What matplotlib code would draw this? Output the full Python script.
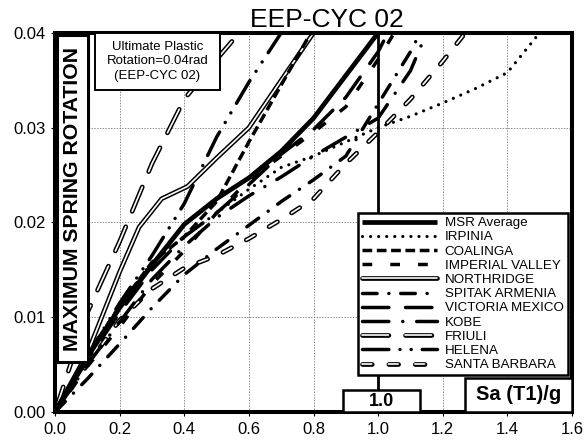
import matplotlib
matplotlib.use("Agg")
import matplotlib.pyplot as plt
import matplotlib.patheffects as pe
from matplotlib.patches import Rectangle

plt.rcParams['font.family'] = ['Liberation Sans', 'DejaVu Sans']
plt.rcParams['lines.scale_dashes'] = False

# Spectral acceleration steps and maximum spring rotation for each record
sa_msr = [0, 0.1, 0.2, 0.3, 0.4, 0.5, 0.6, 0.7, 0.8, 0.9, 1.0]
rot_msr = [0, 0.0058, 0.011, 0.0155, 0.0198, 0.0225, 0.0247, 0.0275, 0.031, 0.0355, 0.040]

sa_irpinia = [0, 0.1, 0.2, 0.3, 0.4, 0.5, 0.6, 0.7, 0.8, 0.9, 1.0, 1.1, 1.2, 1.3, 1.4, 1.5]
rot_irpinia = [0, 0.006, 0.0112, 0.0158, 0.0185, 0.021, 0.0235, 0.0258, 0.027, 0.0285,
               0.030, 0.0312, 0.0326, 0.0341, 0.0358, 0.040]

sa_coalinga = [0, 0.1, 0.2, 0.3, 0.4, 0.5, 0.6, 0.7, 0.8]
rot_coalinga = [0, 0.006, 0.0112, 0.0158, 0.0185, 0.0222, 0.0285, 0.0345, 0.0405]

sa_imperial = [0, 0.1, 0.2, 0.3, 0.4, 0.5, 0.6, 0.7, 0.8, 0.9, 1.0, 1.05]
rot_imperial = [0, 0.0048, 0.009, 0.0135, 0.017, 0.021, 0.0245, 0.027, 0.0295, 0.0322, 0.0372, 0.040]

sa_northridge = [0, 0.1, 0.2, 0.26, 0.33, 0.41, 0.5, 0.6, 0.7, 0.8]
rot_northridge = [0, 0.0062, 0.0148, 0.0195, 0.0225, 0.0238, 0.0268, 0.030, 0.035, 0.040]

sa_spitak = [0, 0.1, 0.2, 0.3, 0.4, 0.5, 0.6, 0.7, 0.8, 0.9, 1.0, 1.1, 1.13]
rot_spitak = [0, 0.0035, 0.0072, 0.011, 0.0145, 0.0172, 0.0197, 0.0222, 0.0245, 0.027,
              0.0325, 0.038, 0.040]

sa_victoria = [0, 0.1, 0.2, 0.3, 0.4, 0.5, 0.6, 0.7, 0.8, 0.9, 1.0, 1.03]
rot_victoria = [0, 0.0055, 0.0105, 0.015, 0.0185, 0.021, 0.024, 0.0272, 0.0298, 0.0332, 0.038, 0.040]

sa_kobe = [0, 0.1, 0.2, 0.3, 0.4, 0.5, 0.6, 0.7, 0.8, 0.9, 1.0, 1.1, 1.15]
rot_kobe = [0, 0.005, 0.0095, 0.014, 0.0175, 0.0205, 0.0228, 0.0248, 0.027, 0.029, 0.031, 0.036, 0.040]

sa_friuli = [0, 0.1, 0.2, 0.3, 0.4, 0.5, 0.57]
rot_friuli = [0, 0.0105, 0.018, 0.0262, 0.033, 0.0372, 0.040]

sa_helena = [0, 0.1, 0.2, 0.3, 0.4, 0.5, 0.6, 0.7]
rot_helena = [0, 0.006, 0.0115, 0.0165, 0.022, 0.029, 0.0348, 0.040]

sa_santa_barbara = [0, 0.1, 0.2, 0.3, 0.4, 0.5, 0.6, 0.7, 0.8, 0.9, 1.0, 1.1, 1.2, 1.27]
rot_santa_barbara = [0, 0.005, 0.0097, 0.013, 0.0152, 0.0165, 0.0183, 0.0203, 0.0225, 0.0262,
                     0.0295, 0.033, 0.037, 0.040]

x_ticks = [0.0, 0.2, 0.4, 0.6, 0.8, 1.0, 1.2, 1.4, 1.6]
y_ticks = [0.00, 0.01, 0.02, 0.03, 0.04]
x_tick_labels = ["0.0", "0.2", "0.4", "0.6", "0.8", "1.0", "1.2", "1.4", "1.6"]
y_tick_labels = ["0.00", "0.01", "0.02", "0.03", "0.04"]

fig = plt.figure(figsize=(5.86, 4.44), dpi=100)
ax = fig.add_axes([0.094, 0.072, 0.882, 0.854])
ax.set_xlim(0, 1.6)
ax.set_ylim(0, 0.04)

LW = 2.5


def single(x, y, dashes=None, lw=LW, cap='round'):
    kw = dict(color='black', lw=lw, solid_capstyle='butt', dash_capstyle=cap)
    if dashes is not None:
        kw['linestyle'] = (0, dashes)
    line, = ax.plot(x, y, **kw)
    return line


def double(x, y, dashes=None):
    # white core with a black outline
    kw = dict(color='white', lw=1.2, solid_capstyle='round', dash_capstyle='round',
              path_effects=[pe.Stroke(linewidth=3.4, foreground='black'), pe.Normal()])
    if dashes is not None:
        kw['linestyle'] = (0, dashes)
    line, = ax.plot(x, y, **kw)
    return line


# dash patterns in points (round caps add one line width to every dash)
pat_irpinia = (0.01, 5.8)
pat_coalinga = (7.0, 3.3)
pat_imperial = (7.0, 13.0)
pat_spitak = (10.5, 8.5, 0.01, 8.5)
pat_victoria = (19.0, 12.0)
pat_kobe = (19.0, 10.0, 0.01, 10.0)
pat_helena = (19.0, 8.0, 0.01, 8.0, 0.01, 8.0)
pat_friuli = (19.0, 12.0)
pat_santa = (7.0, 12.0)

h_santa = double(sa_santa_barbara, rot_santa_barbara, pat_santa)
h_friuli = double(sa_friuli, rot_friuli, pat_friuli)
h_helena = single(sa_helena, rot_helena, pat_helena)
h_kobe = single(sa_kobe, rot_kobe, pat_kobe)
h_victoria = single(sa_victoria, rot_victoria, pat_victoria)
h_spitak = single(sa_spitak, rot_spitak, pat_spitak)
h_northridge = double(sa_northridge, rot_northridge)
h_imperial = single(sa_imperial, rot_imperial, pat_imperial, cap='butt')
h_coalinga = single(sa_coalinga, rot_coalinga, pat_coalinga, cap='butt')
h_irpinia = single(sa_irpinia, rot_irpinia, pat_irpinia, lw=2.3)
h_msr = single(sa_msr, rot_msr, None, lw=3.4)

# reference line at Sa = 1.0
ax.plot([1.0, 1.0], [0, 0.04], color='black', lw=2.0, zorder=3)

ax.set_xticks(x_ticks)
ax.set_xticklabels(x_tick_labels)
ax.set_yticks(y_ticks)
ax.set_yticklabels(y_tick_labels)
ax.tick_params(direction='out', length=3, width=0.8, labelsize=12, pad=4)
ax.grid(True, color='#8a8a8a', linestyle=(0, (1, 1)), lw=0.7)
ax.set_axisbelow(True)
for s in ax.spines.values():
    s.set_linewidth(2.9)
    s.set_zorder(6)

fig.text(0.557, 0.939, "EEP-CYC 02", fontsize=19, ha='center', va='baseline')

handles = [h_msr, h_irpinia, h_coalinga, h_imperial, h_northridge, h_spitak,
           h_victoria, h_kobe, h_friuli, h_helena, h_santa]
labels = ["MSR Average", "IRPINIA", "COALINGA", "IMPERIAL VALLEY", "NORTHRIDGE",
          "SPITAK ARMENIA", "VICTORIA MEXICO", "KOBE", "FRIULI", "HELENA", "SANTA BARBARA"]
leg = ax.legend(handles, labels, loc='upper left', bbox_to_anchor=(0.586, 0.525),
                borderaxespad=0, fontsize=9.6, handlelength=5.6, handletextpad=0.6,
                labelspacing=0.14, borderpad=0.3, fancybox=False, framealpha=1,
                edgecolor='black')
leg.get_frame().set_linewidth(1.8)
leg.set_zorder(7)


def framed(x0, y0, x1, y1, lw=1.8):
    ax.add_patch(Rectangle((x0, y0), x1 - x0, y1 - y0, transform=ax.transAxes,
                           facecolor='white', edgecolor='black', lw=lw, zorder=8,
                           clip_on=False))


# y-axis caption inside the frame
framed(0.004, 0.132, 0.064, 0.994, lw=2.2)
ax.text(0.034, 0.563, "MAXIMUM SPRING ROTATION", transform=ax.transAxes, rotation=90,
        fontsize=15.3, fontweight='bold', ha='center', va='center', zorder=9)

framed(0.077, 0.85, 0.319, 1.0, lw=1.4)
ax.text(0.198, 0.925, "Ultimate Plastic\nRotation=0.04rad\n(EEP-CYC 02)", transform=ax.transAxes,
        fontsize=9.5, ha='center', va='center', linespacing=1.25, zorder=9)

framed(0.557, 0.0, 0.706, 0.058)
ax.text(0.631, 0.027, "1.0", transform=ax.transAxes, fontsize=13, fontweight='bold',
        ha='center', va='center', zorder=9)

framed(0.793, 0.0, 1.0, 0.09)
ax.text(0.897, 0.045, "Sa (T1)/g", transform=ax.transAxes, fontsize=14.5, fontweight='bold',
        ha='center', va='center', zorder=9)

fig.savefig("out.png", dpi=100)
